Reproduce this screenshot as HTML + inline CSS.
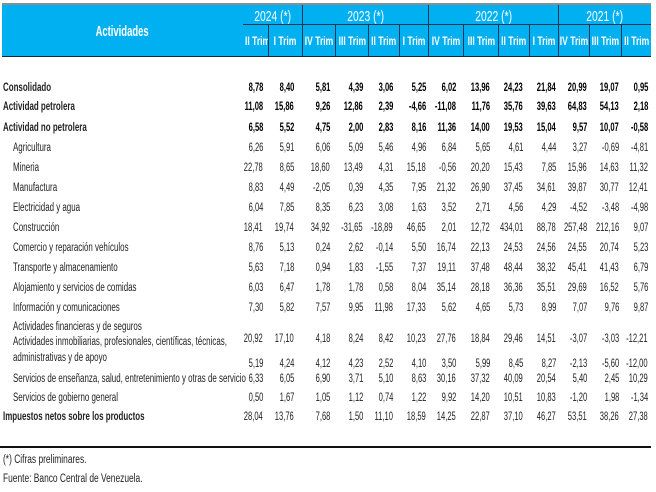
<!DOCTYPE html>
<html><head><meta charset="utf-8">
<style>
html,body{margin:0;padding:0}
body{width:656px;height:492px;background:#fff;position:relative;overflow:hidden;font-family:"Liberation Sans",Arial,sans-serif}
.a{position:absolute}
.hd{position:absolute;left:2px;top:5px;width:649px;height:51px;background:#00B0F0}
.vl{position:absolute;width:1px;background:#1c3550}
.ht{position:absolute;color:#fff;display:flex;justify-content:center;align-items:center;overflow:hidden;white-space:nowrap}
.ht span{display:inline-block;transform-origin:50% 50%}
.yr span{font-size:15px;transform:scaleX(.69)}
.tr span{font-size:12px;font-weight:bold;transform:scaleX(.71)}
.r{position:absolute;left:0;width:656px;height:12px;font-size:11.5px;line-height:12px;color:#222}
.r i{position:absolute;top:0;font-style:normal;white-space:nowrap;transform:scaleX(.66);transform-origin:100% 50%}
.b{font-weight:bold;color:#000}
.lb{position:absolute;font-size:11.5px;line-height:12px;height:12px;color:#222;white-space:nowrap;transform:scaleX(.69);transform-origin:0 50%}
.lb.m{left:3px}
.lb.s{left:13px}
.c1{right:393px}.c2{right:362px}.c3{right:326px}.c4{right:293px}.c5{right:263px}.c6{right:230px}.c7{right:200px}.c8{right:166px}.c9{right:133px}.c10{right:100px}.c11{right:69px}.c12{right:37px}.c13{right:8px}
.ft{position:absolute;left:3px;font-size:11.5px;line-height:12px;color:#222;white-space:nowrap;transform:scaleX(.73);transform-origin:0 50%}
</style></head><body>

<!-- header -->
<div class="a" style="left:2px;top:3px;width:649px;height:2px;background:#8c8c8c"></div>
<div class="hd"></div>
<div class="a" style="left:2px;top:56px;width:649px;height:1px;background:#0d2a40"></div>
<div class="a" style="left:243px;top:24px;width:408px;height:1px;background:#1c3550"></div>
<div class="vl" style="left:302px;top:5px;height:51px"></div>
<div class="vl" style="left:428px;top:5px;height:51px"></div>
<div class="vl" style="left:558px;top:5px;height:51px"></div>
<div class="vl" style="left:268px;top:24px;height:32px"></div>
<div class="vl" style="left:335px;top:24px;height:32px"></div>
<div class="vl" style="left:368px;top:24px;height:32px"></div>
<div class="vl" style="left:399px;top:24px;height:32px"></div>
<div class="vl" style="left:463px;top:24px;height:32px"></div>
<div class="vl" style="left:498px;top:24px;height:32px"></div>
<div class="vl" style="left:529px;top:24px;height:32px"></div>
<div class="vl" style="left:589px;top:24px;height:32px"></div>
<div class="vl" style="left:621px;top:24px;height:32px"></div>

<div class="ht" style="left:2px;top:21px;width:241px;height:20px"><span style="font-size:15px;font-weight:bold;transform:scaleX(.63)">Actividades</span></div>

<div class="ht yr" style="left:243px;top:6px;width:59px;height:20px"><span>2024 (*)</span></div>
<div class="ht yr" style="left:303px;top:6px;width:125px;height:20px"><span>2023 (*)</span></div>
<div class="ht yr" style="left:429px;top:6px;width:129px;height:20px"><span>2022 (*)</span></div>
<div class="ht yr" style="left:559px;top:6px;width:92px;height:20px"><span>2021 (*)</span></div>

<div class="ht tr" style="left:243px;top:33px;width:25px;height:16px;justify-content:flex-start"><span style="transform-origin:0 50%;margin-left:2px">II Trim</span></div>
<div class="ht tr" style="left:269px;top:33px;width:33px;height:16px"><span>I Trim</span></div>
<div class="ht tr" style="left:303px;top:33px;width:32px;height:16px"><span>IV Trim</span></div>
<div class="ht tr" style="left:336px;top:33px;width:32px;height:16px"><span>III Trim</span></div>
<div class="ht tr" style="left:369px;top:33px;width:30px;height:16px"><span>II Trim</span></div>
<div class="ht tr" style="left:400px;top:33px;width:28px;height:16px"><span>I Trim</span></div>
<div class="ht tr" style="left:429px;top:33px;width:34px;height:16px"><span>IV Trim</span></div>
<div class="ht tr" style="left:464px;top:33px;width:34px;height:16px"><span>III Trim</span></div>
<div class="ht tr" style="left:499px;top:33px;width:30px;height:16px"><span>II Trim</span></div>
<div class="ht tr" style="left:530px;top:33px;width:28px;height:16px"><span>I Trim</span></div>
<div class="ht tr" style="left:559px;top:33px;width:30px;height:16px"><span>IV Trim</span></div>
<div class="ht tr" style="left:590px;top:33px;width:31px;height:16px"><span>III Trim</span></div>
<div class="ht tr" style="left:622px;top:33px;width:29px;height:16px"><span>II Trim</span></div>

<!-- labels -->
<div class="lb m b" style="top:82px">Consolidado</div>
<div class="lb m b" style="top:101px">Actividad petrolera</div>
<div class="lb m b" style="top:122px">Actividad no petrolera</div>
<div class="lb s" style="top:142px">Agricultura</div>
<div class="lb s" style="top:162px">Mineria</div>
<div class="lb s" style="top:182px">Manufactura</div>
<div class="lb s" style="top:202px">Electricidad y agua</div>
<div class="lb s" style="top:222px">Construcción</div>
<div class="lb s" style="top:242px">Comercio y reparación vehículos</div>
<div class="lb s" style="top:262px">Transporte y almacenamiento</div>
<div class="lb s" style="top:282px">Alojamiento y servicios de comidas</div>
<div class="lb s" style="top:302px">Información y comunicaciones</div>
<div class="lb s" style="top:321px">Actividades financieras y de seguros</div>
<div class="lb s" style="top:336px">Actividades inmobiliarias, profesionales, científicas, técnicas,</div>
<div class="lb s" style="top:352px">administrativas y de apoyo</div>
<div class="lb s" style="top:373px">Servicios de enseñanza, salud, entretenimiento y otras de servicio</div>
<div class="lb s" style="top:392px">Servicios de gobierno general</div>
<div class="lb m b" style="top:411px">Impuestos netos sobre los productos</div>

<!-- values -->
<div class="r b" style="top:82px"><i class="c1">8,78</i><i class="c2">8,40</i><i class="c3">5,81</i><i class="c4">4,39</i><i class="c5">3,06</i><i class="c6">5,25</i><i class="c7">6,02</i><i class="c8">13,96</i><i class="c9">24,23</i><i class="c10">21,84</i><i class="c11">20,99</i><i class="c12">19,07</i><i class="c13">0,95</i></div>
<div class="r b" style="top:101px"><i class="c1">11,08</i><i class="c2">15,86</i><i class="c3">9,26</i><i class="c4">12,86</i><i class="c5">2,39</i><i class="c6">-4,66</i><i class="c7">-11,08</i><i class="c8">11,76</i><i class="c9">35,76</i><i class="c10">39,63</i><i class="c11">64,83</i><i class="c12">54,13</i><i class="c13">2,18</i></div>
<div class="r b" style="top:122px"><i class="c1">6,58</i><i class="c2">5,52</i><i class="c3">4,75</i><i class="c4">2,00</i><i class="c5">2,83</i><i class="c6">8,16</i><i class="c7">11,36</i><i class="c8">14,00</i><i class="c9">19,53</i><i class="c10">15,04</i><i class="c11">9,57</i><i class="c12">10,07</i><i class="c13">-0,58</i></div>
<div class="r" style="top:142px"><i class="c1">6,26</i><i class="c2">5,91</i><i class="c3">6,06</i><i class="c4">5,09</i><i class="c5">5,46</i><i class="c6">4,96</i><i class="c7">6,84</i><i class="c8">5,65</i><i class="c9">4,61</i><i class="c10">4,44</i><i class="c11">3,27</i><i class="c12">-0,69</i><i class="c13">-4,81</i></div>
<div class="r" style="top:162px"><i class="c1">22,78</i><i class="c2">8,65</i><i class="c3">18,60</i><i class="c4">13,49</i><i class="c5">4,31</i><i class="c6">15,18</i><i class="c7">-0,56</i><i class="c8">20,20</i><i class="c9">15,43</i><i class="c10">7,85</i><i class="c11">15,96</i><i class="c12">14,63</i><i class="c13">11,32</i></div>
<div class="r" style="top:182px"><i class="c1">8,83</i><i class="c2">4,49</i><i class="c3">-2,05</i><i class="c4">0,39</i><i class="c5">4,35</i><i class="c6">7,95</i><i class="c7">21,32</i><i class="c8">26,90</i><i class="c9">37,45</i><i class="c10">34,61</i><i class="c11">39,87</i><i class="c12">30,77</i><i class="c13">12,41</i></div>
<div class="r" style="top:202px"><i class="c1">6,04</i><i class="c2">7,85</i><i class="c3">8,35</i><i class="c4">6,23</i><i class="c5">3,08</i><i class="c6">1,63</i><i class="c7">3,52</i><i class="c8">2,71</i><i class="c9">4,56</i><i class="c10">4,29</i><i class="c11">-4,52</i><i class="c12">-3,48</i><i class="c13">-4,98</i></div>
<div class="r" style="top:222px"><i class="c1">18,41</i><i class="c2">19,74</i><i class="c3">34,92</i><i class="c4">-31,65</i><i class="c5">-18,89</i><i class="c6">46,65</i><i class="c7">2,01</i><i class="c8">12,72</i><i class="c9">434,01</i><i class="c10">88,78</i><i class="c11">257,48</i><i class="c12">212,16</i><i class="c13">9,07</i></div>
<div class="r" style="top:242px"><i class="c1">8,76</i><i class="c2">5,13</i><i class="c3">0,24</i><i class="c4">2,62</i><i class="c5">-0,14</i><i class="c6">5,50</i><i class="c7">16,74</i><i class="c8">22,13</i><i class="c9">24,53</i><i class="c10">24,56</i><i class="c11">24,55</i><i class="c12">20,74</i><i class="c13">5,23</i></div>
<div class="r" style="top:262px"><i class="c1">5,63</i><i class="c2">7,18</i><i class="c3">0,94</i><i class="c4">1,83</i><i class="c5">-1,55</i><i class="c6">7,37</i><i class="c7">19,11</i><i class="c8">37,48</i><i class="c9">48,44</i><i class="c10">38,32</i><i class="c11">45,41</i><i class="c12">41,43</i><i class="c13">6,79</i></div>
<div class="r" style="top:282px"><i class="c1">6,03</i><i class="c2">6,47</i><i class="c3">1,78</i><i class="c4">1,78</i><i class="c5">0,58</i><i class="c6">8,04</i><i class="c7">35,14</i><i class="c8">28,18</i><i class="c9">36,36</i><i class="c10">35,51</i><i class="c11">29,69</i><i class="c12">16,52</i><i class="c13">5,76</i></div>
<div class="r" style="top:302px"><i class="c1">7,30</i><i class="c2">5,82</i><i class="c3">7,57</i><i class="c4">9,95</i><i class="c5">11,98</i><i class="c6">17,33</i><i class="c7">5,62</i><i class="c8">4,65</i><i class="c9">5,73</i><i class="c10">8,99</i><i class="c11">7,07</i><i class="c12">9,76</i><i class="c13">9,87</i></div>
<div class="r" style="top:333px"><i class="c1">20,92</i><i class="c2">17,10</i><i class="c3">4,18</i><i class="c4">8,24</i><i class="c5">8,42</i><i class="c6">10,23</i><i class="c7">27,76</i><i class="c8">18,84</i><i class="c9">29,46</i><i class="c10">14,51</i><i class="c11">-3,07</i><i class="c12">-3,03</i><i class="c13">-12,21</i></div>
<div class="r" style="top:358px"><i class="c1">5,19</i><i class="c2">4,24</i><i class="c3">4,12</i><i class="c4">4,23</i><i class="c5">2,52</i><i class="c6">4,10</i><i class="c7">3,50</i><i class="c8">5,99</i><i class="c9">8,45</i><i class="c10">8,27</i><i class="c11">-2,13</i><i class="c12">-5,60</i><i class="c13">-12,00</i></div>
<div class="r" style="top:373px"><i class="c1">6,33</i><i class="c2">6,05</i><i class="c3">6,90</i><i class="c4">3,71</i><i class="c5">5,10</i><i class="c6">8,63</i><i class="c7">30,16</i><i class="c8">37,32</i><i class="c9">40,09</i><i class="c10">20,54</i><i class="c11">5,40</i><i class="c12">2,45</i><i class="c13">10,29</i></div>
<div class="r" style="top:392px"><i class="c1">0,50</i><i class="c2">1,67</i><i class="c3">1,05</i><i class="c4">1,12</i><i class="c5">0,74</i><i class="c6">1,22</i><i class="c7">9,92</i><i class="c8">14,20</i><i class="c9">10,51</i><i class="c10">10,83</i><i class="c11">-1,20</i><i class="c12">1,98</i><i class="c13">-1,34</i></div>
<div class="r" style="top:411px"><i class="c1">28,04</i><i class="c2">13,76</i><i class="c3">7,68</i><i class="c4">1,50</i><i class="c5">11,10</i><i class="c6">18,59</i><i class="c7">14,25</i><i class="c8">22,87</i><i class="c9">37,10</i><i class="c10">46,27</i><i class="c11">53,51</i><i class="c12">38,26</i><i class="c13">27,38</i></div>

<!-- footer -->
<div class="a" style="left:0;top:446px;width:651px;height:2px;background:#111"></div>
<div class="ft" style="top:454px">(*) Cifras preliminares.</div>
<div class="ft" style="top:473px">Fuente: Banco Central de Venezuela.</div>

</body></html>
